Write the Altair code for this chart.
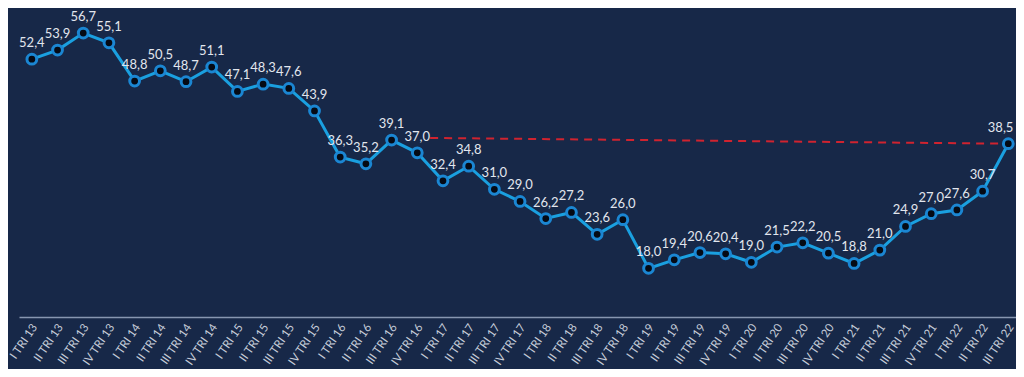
import altair as alt
import pandas as pd

quarters = [
    "I TRI 13", "II TRI 13", "III TRI 13", "IV TRI 13",
    "I TRI 14", "II TRI 14", "III TRI 14", "IV TRI 14",
    "I TRI 15", "II TRI 15", "III TRI 15", "IV TRI 15",
    "I TRI 16", "II TRI 16", "III TRI 16", "IV TRI 16",
    "I TRI 17", "II TRI 17", "III TRI 17", "IV TRI 17",
    "I TRI 18", "II TRI 18", "III TRI 18", "IV TRI 18",
    "I TRI 19", "II TRI 19", "III TRI 19", "IV TRI 19",
    "I TRI 20", "II TRI 20", "III TRI 20", "IV TRI 20",
    "I TRI 21", "II TRI 21", "III TRI 21", "IV TRI 21",
    "I TRI 22", "II TRI 22", "III TRI 22",
]
values = [
    52.4, 53.9, 56.7, 55.1,
    48.8, 50.5, 48.7, 51.1,
    47.1, 48.3, 47.6, 43.9,
    36.3, 35.2, 39.1, 37.0,
    32.4, 34.8, 31.0, 29.0,
    26.2, 27.2, 23.6, 26.0,
    18.0, 19.4, 20.6, 20.4,
    19.0, 21.5, 22.2, 20.5,
    18.8, 21.0, 24.9, 27.0,
    27.6, 30.7, 38.5,
]
# reference (dashed) line: start / end in data units
ref_x = [15.5, 38]
ref_y = [39.45, 38.5]

df = pd.DataFrame({
    "i": list(range(len(quarters))),
    "q": quarters,
    "v": values,
    "lab": [f"{v:.1f}".replace(".", ",") for v in values],
})
ref_df = pd.DataFrame({"i": ref_x, "v": ref_y})

label_expr = "[" + ",".join(f"'{q}'" for q in quarters) + "][datum.value]"

xscale = alt.Scale(domain=[-0.5, 38.3], nice=False, zero=False)
yscale = alt.Scale(domain=[10, 60], nice=False, zero=False)

x_axis = alt.Axis(
    values=list(range(len(quarters))), labelExpr=label_expr,
    labelAngle=-56, labelAlign="right", labelBaseline="middle",
    labelPadding=8, labelOffset=3, labelFontSize=11.5, labelFont="Lato",
    labelColor="#c5ccd8", ticks=False, grid=False,
    domainColor="#8796b0", domainWidth=1.5, labelOverlap=False,
    labelBound=False, labelFlush=False,
)
x_enc = alt.X("i:Q", scale=xscale, title=None, axis=x_axis)
y_enc = alt.Y("v:Q", scale=yscale, axis=None)

ref = alt.Chart(ref_df).mark_line(
    color="#d0232f", strokeWidth=2, strokeDash=[8, 6]
).encode(x=x_enc, y=y_enc)

line = alt.Chart(df).mark_line(color="#1aa0e0", strokeWidth=3).encode(x=x_enc, y=y_enc)

pts = alt.Chart(df).mark_point(
    filled=False, shape="circle", size=95, fill="#050a14", fillOpacity=1,
    stroke="#1b86d2", strokeWidth=3, opacity=1,
).encode(x=x_enc, y=y_enc)

labels = alt.Chart(df).transform_calculate(
    ix="datum.i == 38 ? datum.i - 0.3 : datum.i"
).mark_text(
    dy=-16, font="Lato", fontSize=13, color="#e2e6ee", align="center"
).encode(
    x=alt.X("ix:Q", scale=xscale, title=None, axis=x_axis),
    y=y_enc, text="lab:N",
)

chart = alt.layer(ref, line, pts, labels).properties(
    width=997, height=304,
    autosize=alt.AutoSizeParams(type="none"),
    padding={"left": 11, "top": 5, "right": 0, "bottom": 52},
    background="#172848",
).configure_view(stroke=None)

chart.save("out.html", embed_options={"renderer": "svg", "actions": False})
